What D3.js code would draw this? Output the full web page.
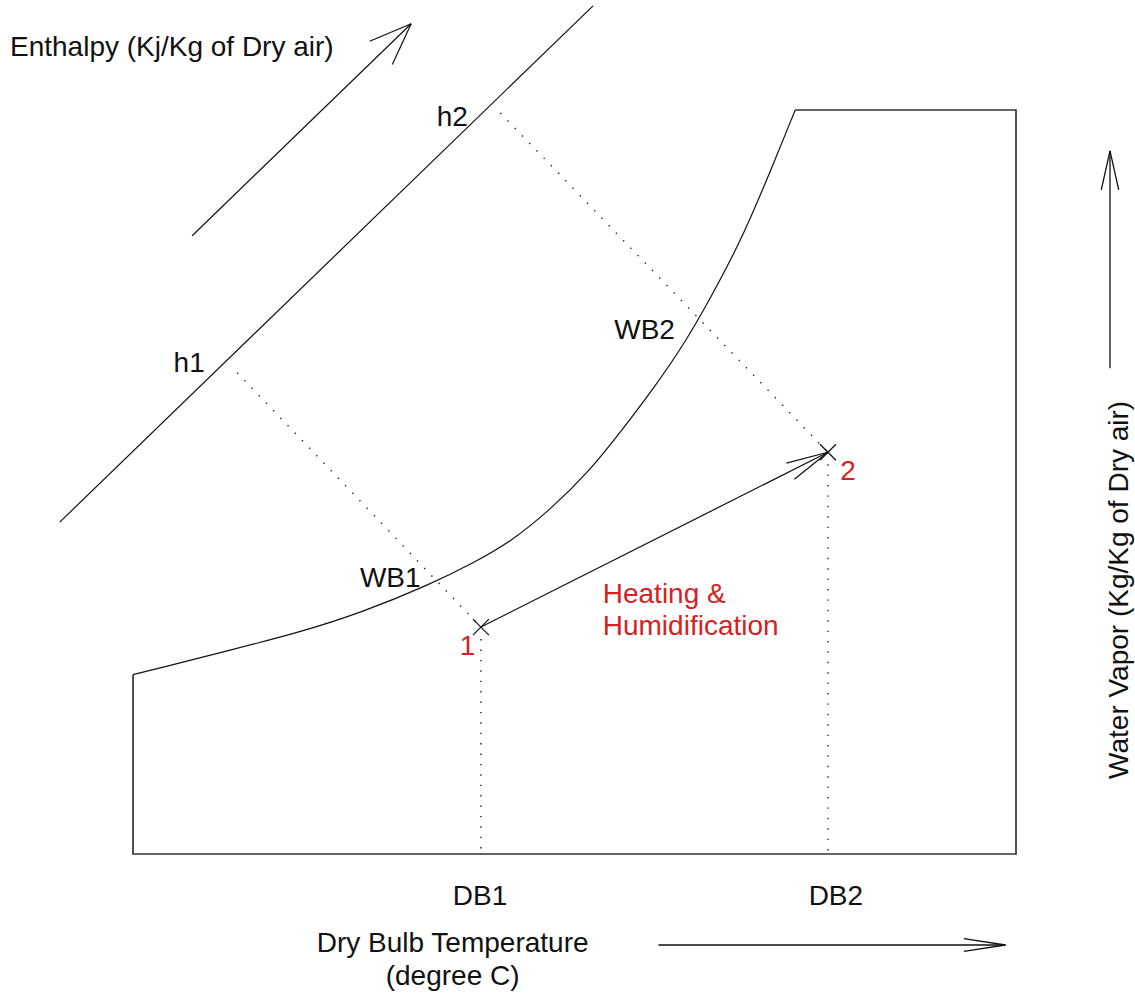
<!DOCTYPE html>
<html>
<head>
<meta charset="utf-8">
<script src="https://cdn.jsdelivr.net/npm/d3@7"></script>
<style>
  body { margin: 0; background: #fff; }
  svg text { font-family: "Liberation Sans", Arial, sans-serif; font-size: 28px; fill: #111; }
</style>
</head>
<body>
<svg id="chart_svg" width="1135" height="996"></svg>
<script>
// chart units: x = dry bulb (0-100 across the frame), y = water vapor (0-100 up the frame)
var satX = [0, 3.4, 11, 18.6, 26, 33.6, 38.5, 42.7, 47.2, 51.8, 55.4, 59.1, 62.5, 65.3, 68.7, 71.3, 75];
var satY = [24.1, 25.1, 27.4, 29.7, 32.5, 36.2, 39.1, 41.9, 46.2, 51.6, 57.0, 62.8, 68.7, 74.5, 82.1, 89.2, 100];

// frame from the saturation curve foot, round the box, to the curve top
var frameX = [0, 0, 100, 100, 75];
var frameY = [24.1, 0, 0, 100, 100];

var stateNames = ["1", "2"];
var stateX = [39.4, 78.7];
var stateY = [30.5, 54.0];

// points where the enthalpy line meets the dotted lines
var enthNames = ["h1", "h2"];
var enthX = [11.8, 41.6];
var enthY = [64.7, 99.6];

var enthLineX = [-8.3, 52.1];
var enthLineY = [44.6, 114.0];
var enthArrowX = [6.7, 31.5];
var enthArrowY = [83.1, 111.6];

var labelText = ["h1", "h2", "WB1", "WB2"];
var labelX = [4.6, 34.4, 25.7, 54.5];
var labelY = [64.8, 97.8, 35.9, 69.2];

var stateLabelX = [37.0, 80.1];
var stateLabelY = [26.7, 50.3];

var processText = ["Heating &", "Humidification"];
var processX = [53.2, 53.2];
var processY = [33.7, 29.4];

var dbNames = ["DB1", "DB2"];
var dbX = [39.3, 79.6];

var red = "#d42222";

document.addEventListener('DOMContentLoaded', function () {
  drawChart();
});

function drawChart() {
  var margin = { top: 110, right: 119, bottom: 142, left: 133 },
    width = 1135 - margin.left - margin.right,
    height = 996 - margin.top - margin.bottom;

  var svg = d3.select('#chart_svg')
    .append('g')
    .attr("transform", "translate(" + margin.left + "," + margin.top + ")");

  var x = d3.scaleLinear().domain([0, 100]).range([0, width]);
  var y = d3.scaleLinear().domain([0, 100]).range([height, 0]);

  var line = d3.line().x(d => x(d[0])).y(d => y(d[1]));

  // outer frame
  svg.append("path")
    .datum(d3.zip(frameX, frameY))
    .attr("d", line)
    .attr("fill", "none")
    .attr("stroke", "#333")
    .attr("stroke-width", 1.7);

  // saturation curve
  svg.append("path")
    .datum(d3.zip(satX, satY))
    .attr("d", line.curve(d3.curveBasis))
    .attr("fill", "none")
    .attr("stroke", "#111")
    .attr("stroke-width", 1.2);
  line.curve(d3.curveLinear);

  // enthalpy line + arrow
  svg.append("path")
    .datum(d3.zip(enthLineX, enthLineY))
    .attr("d", line)
    .attr("stroke", "#111")
    .attr("stroke-width", 1.2);

  var arr = svg.append("g").attr("stroke", "#111").attr("stroke-width", 1.2);
  arr.append("line")
    .attr("x1", x(enthArrowX[0])).attr("y1", y(enthArrowY[0]))
    .attr("x2", x(enthArrowX[1])).attr("y2", y(enthArrowY[1]));
  arrowHead(arr, x(enthArrowX[0]), y(enthArrowY[0]), x(enthArrowX[1]), y(enthArrowY[1]), 45, 0.37);

  // dotted guides: enthalpy points to states, states down to the DB axis
  var dots = svg.append("g")
    .attr("stroke", "#222")
    .attr("stroke-width", 1.4)
    .attr("stroke-dasharray", "1.4,9");

  dots.selectAll(".enth_guides")
    .data(enthNames)
    .enter()
    .append("line")
    .attr("class", "enth_guides")
    .attr("x1", (_, i) => x(enthX[i]))
    .attr("y1", (_, i) => y(enthY[i]))
    .attr("x2", (_, i) => x(stateX[i]))
    .attr("y2", (_, i) => y(stateY[i]));

  dots.selectAll(".db_guides")
    .data(stateNames)
    .enter()
    .append("line")
    .attr("class", "db_guides")
    .attr("x1", (_, i) => x(stateX[i]))
    .attr("y1", (_, i) => y(stateY[i]) + 12)
    .attr("x2", (_, i) => x(stateX[i]))
    .attr("y2", y(0));

  // process line 1 -> 2
  var proc = svg.append("g").attr("stroke", "#111").attr("stroke-width", 1.2);
  proc.append("line")
    .attr("x1", x(stateX[0])).attr("y1", y(stateY[0]))
    .attr("x2", x(stateX[1])).attr("y2", y(stateY[1]));
  arrowHead(proc, x(stateX[0]), y(stateY[0]), x(stateX[1]), y(stateY[1]), 43, 0.21);

  // state markers
  var cross = 8;
  stateNames.forEach(function (s, i) {
    var cx = x(stateX[i]), cy = y(stateY[i]);
    proc.append("line").attr("x1", cx - cross).attr("y1", cy - cross).attr("x2", cx + cross).attr("y2", cy + cross);
    proc.append("line").attr("x1", cx - cross).attr("y1", cy + cross).attr("x2", cx + cross).attr("y2", cy - cross);
  });

  // labels
  svg.selectAll(".curveLabels")
    .data(labelText)
    .enter()
    .append('text')
    .attr("class", "curveLabels")
    .attr("x", (_, i) => x(labelX[i]))
    .attr("y", (_, i) => y(labelY[i]))
    .text(d => d);

  svg.selectAll(".stateLabels")
    .data(stateNames)
    .enter()
    .append('text')
    .attr("class", "stateLabels")
    .attr("x", (_, i) => x(stateLabelX[i]))
    .attr("y", (_, i) => y(stateLabelY[i]))
    .style("fill", red)
    .text(d => d);

  svg.selectAll(".procLabels")
    .data(processText)
    .enter()
    .append('text')
    .attr("class", "procLabels")
    .attr("x", (_, i) => x(processX[i]))
    .attr("y", (_, i) => y(processY[i]))
    .style("fill", red)
    .text(d => d);

  svg.selectAll(".dbLabels")
    .data(dbNames)
    .enter()
    .append('text')
    .attr("class", "dbLabels")
    .attr("x", (_, i) => x(dbX[i]))
    .attr("y", height + 51)
    .attr("text-anchor", "middle")
    .text(d => d);

  // axis titles
  var xt = svg.append('text')
    .attr("x", x(36.2))
    .attr("y", height + 98)
    .attr("text-anchor", "middle");
  xt.append("tspan").attr("x", x(36.2)).text("Dry Bulb Temperature");
  xt.append("tspan").attr("x", x(36.2)).attr("dy", 33).text("(degree C)");

  svg.append('text')
    .attr("x", 10 - margin.left)
    .attr("y", 56 - margin.top)
    .text("Enthalpy (Kj/Kg of Dry air)");

  svg.append('text')
    .attr("transform", "translate(" + (width + 128 - 16) + "," + y(35.5) + ") rotate(-90)")
    .attr("text-anchor", "middle")
    .text("Water Vapor (Kg/Kg of Dry air)");

  // direction arrows outside the frame
  var bx1 = x(59.5), bx2 = x(98.8), by = height + 91;
  var bot = svg.append("g").attr("stroke", "#111").attr("stroke-width", 1.3);
  bot.append("line").attr("x1", bx1).attr("y1", by).attr("x2", bx2).attr("y2", by);
  arrowHead(bot, bx1, by, bx2, by, 42, 0.15);

  var rx = width + 94, ry1 = y(65.3), ry2 = y(94.5);
  var rgt = svg.append("g").attr("stroke", "#111").attr("stroke-width", 1.3);
  rgt.append("line").attr("x1", rx).attr("y1", ry1).attr("x2", rx).attr("y2", ry2);
  arrowHead(rgt, rx, ry1, rx, ry2, 40, 0.22);
}

// open arrow head at (x2,y2) pointing away from (x1,y1)
function arrowHead(g, x1, y1, x2, y2, len, ang) {
  var a = Math.atan2(y1 - y2, x1 - x2);
  [-ang, ang].forEach(function (s) {
    g.append("line")
      .attr("x1", x2).attr("y1", y2)
      .attr("x2", x2 + len * Math.cos(a + s))
      .attr("y2", y2 + len * Math.sin(a + s));
  });
}
</script>
</body>
</html>
